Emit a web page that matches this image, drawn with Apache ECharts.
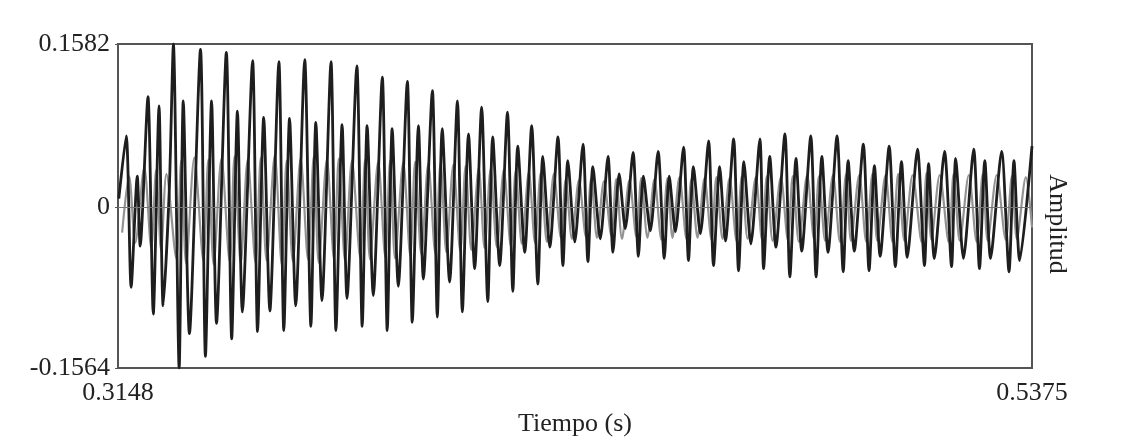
<!DOCTYPE html>
<html>
<head>
<meta charset="utf-8">
<script src="https://cdn.jsdelivr.net/npm/echarts@6/dist/echarts.min.js"></script>
<style>
html,body{margin:0;padding:0;background:#fff;}
#c{width:1130px;height:448px;}
</style>
</head>
<body>
<div id="c"></div>
<script>
// Time axis bounds and tick labels (s)
const xMin = 0.3148;
const xMax = 0.5375;
const xTicks = [0.3148, 0.5375];
// Amplitude axis bounds and tick labels
const yMin = -0.1564;
const yMax = 0.1582;
const yTicks = [-0.1564, 0, 0.1582];

// Dark waveform: successive extrema (time in s, amplitude)
const blackTime = [
0.3150,0.3168,0.3180,0.3195,0.3202,0.3221,0.3234,0.3248,0.3258,0.3273,
0.3283,0.3297,0.3307,0.3322,0.3349,0.3361,0.3376,0.3388,0.3412,0.3425,
0.3439,0.3451,0.3476,0.3488,0.3503,0.3518,0.3540,0.3552,0.3566,0.3581,
0.3603,0.3618,0.3630,0.3645,0.3667,0.3679,0.3694,0.3706,0.3730,0.3743,
0.3755,0.3770,0.3792,0.3804,0.3816,0.3831,0.3853,0.3865,0.3880,0.3892,
0.3914,0.3926,0.3938,0.3956,0.3975,0.3987,0.4002,0.4017,0.4034,0.4049,
0.4061,0.4078,0.4097,0.4110,0.4122,0.4139,0.4156,0.4171,0.4183,0.4200,
0.4220,0.4232,0.4244,0.4261,0.4281,0.4293,0.4305,0.4323,0.4342,0.4354,
0.4369,0.4384,0.4403,0.4416,0.4428,0.4445,0.4464,0.4479,0.4491,0.4506,
0.4526,0.4538,0.4550,0.4567,0.4587,0.4599,0.4614,0.4628,0.4648,0.4660,
0.4673,0.4690,0.4712,0.4721,0.4736,0.4751,0.4773,0.4785,0.4800,0.4814,
0.4836,0.4849,0.4863,0.4878,0.4900,0.4915,0.4927,0.4942,0.4964,0.4978,
0.4991,0.5005,0.5027,0.5042,0.5057,0.5071,0.5096,0.5113,0.5123,0.5137,
0.5162,0.5179,0.5189,0.5208,0.5233,0.5247,0.5260,0.5274,0.5301,0.5319,
0.5331,0.5345,0.5375
];
const blackAmp = [
0.008,0.069,-0.078,0.030,-0.038,0.107,-0.104,0.098,-0.096,0.017,
0.1582,-0.1564,0.103,-0.123,0.153,-0.145,0.103,-0.113,0.150,-0.128,
0.093,-0.102,0.142,-0.121,0.087,-0.101,0.141,-0.120,0.086,-0.096,
0.143,-0.116,0.082,-0.091,0.141,-0.120,0.080,-0.089,0.137,-0.116,
0.079,-0.086,0.126,-0.120,0.076,-0.077,0.122,-0.112,0.079,-0.070,
0.113,-0.107,0.076,-0.073,0.103,-0.102,0.071,-0.060,0.097,-0.092,
0.068,-0.057,0.092,-0.082,0.059,-0.044,0.079,-0.075,0.049,-0.039,
0.068,-0.057,0.045,-0.034,0.061,-0.053,0.039,-0.031,0.049,-0.044,
0.032,-0.021,0.053,-0.048,0.030,-0.023,0.054,-0.050,0.030,-0.024,
0.058,-0.052,0.039,-0.026,0.064,-0.057,0.039,-0.033,0.066,-0.062,
0.044,-0.036,0.066,-0.060,0.049,-0.039,0.071,-0.068,0.047,-0.043,
0.069,-0.068,0.049,-0.044,0.069,-0.063,0.045,-0.043,0.061,-0.062,
0.040,-0.048,0.059,-0.058,0.044,-0.049,0.056,-0.057,0.042,-0.050,
0.054,-0.058,0.047,-0.050,0.056,-0.060,0.045,-0.050,0.054,-0.063,
0.045,-0.052,0.059
];

// Light (grey) waveform: successive extrema (time in s, amplitude)
const grayTime = [
0.3158,0.3175,0.3190,0.3212,0.3229,0.3241,0.3253,0.3266,
0.3290,0.3302,0.3314,0.3334,0.3356,0.3368,0.3381,0.3400,0.3420,0.3432,
0.3447,0.3464,0.3483,0.3496,0.3510,0.3530,0.3547,0.3559,0.3574,0.3593,
0.3611,0.3625,0.3637,0.3657,
0.3674,0.3686,0.3701,0.3718,0.3738,0.3750,0.3762,0.3782,0.3799,0.3811,
0.3823,0.3843,0.3860,0.3872,0.3887,0.3904,0.3921,0.3934,0.3948,
0.3965,0.3982,0.3995,0.4009,0.4027,0.4041,0.4056,0.4071,0.4088,0.4105,
0.4117,0.4132,0.4149,0.4164,0.4178,0.4193,0.4210,
0.4227,0.4239,0.4254,0.4271,0.4288,0.4301,0.4315,0.4332,0.4350,0.4362,
0.4376,0.4394,0.4411,0.4423,0.4438,0.4455,0.4472,0.4487,0.4499,
0.4516,0.4533,0.4545,0.4560,0.4577,0.4594,0.4606,0.4621,0.4638,
0.4655,0.4668,0.4682,0.4702,0.4717,0.4729,0.4743,0.4763,
0.4780,0.4792,0.4807,0.4827,0.4844,0.4856,0.4871,0.4890,
0.4907,0.4922,0.4934,0.4954,0.4971,0.4986,0.4998,0.5018,
0.5035,0.5049,0.5064,0.5084,0.5106,0.5118,0.5130,0.5150,
0.5172,0.5184,0.5199,0.5221,0.5240,0.5255,0.5267,0.5289,
0.5311,0.5326,0.5338,0.5360,0.5375
];
const grayAmp = [
-0.025,0.030,-0.035,0.038,-0.040,0.036,-0.042,0.032,
-0.050,0.045,-0.055,0.048,-0.052,0.046,-0.056,0.047,-0.053,0.049,
-0.055,0.046,-0.054,0.048,-0.052,0.050,-0.056,0.045,-0.053,0.047,
-0.051,0.049,-0.054,0.046,
-0.050,0.047,-0.052,0.045,-0.049,0.046,-0.051,0.044,-0.048,0.045,
-0.050,0.043,-0.047,0.044,-0.046,0.042,-0.045,0.043,-0.044,
0.041,-0.043,0.040,-0.042,0.038,-0.040,0.037,-0.039,0.036,-0.038,
0.035,-0.036,0.034,-0.035,0.033,-0.034,0.032,
-0.030,0.027,-0.031,0.026,-0.029,0.028,-0.030,0.025,-0.028,0.027,
-0.031,0.026,-0.029,0.028,-0.030,0.027,-0.032,0.028,-0.030,
0.029,-0.031,0.027,-0.030,0.028,-0.032,0.029,-0.031,0.028,
-0.033,0.030,-0.031,0.029,-0.032,0.030,-0.033,0.029,
-0.032,0.030,-0.034,0.031,-0.032,0.030,-0.033,0.031,
-0.034,0.032,-0.033,0.031,-0.034,0.032,-0.033,0.031,
-0.034,0.032,-0.033,0.031,-0.034,0.033,-0.032,0.031,
-0.034,0.032,-0.033,0.031,-0.034,0.032,-0.033,0.031,
-0.032,0.030,-0.031,0.029,-0.020
];

const xName = 'Tiempo (s)';
const yName = 'Amplitud';

const FONT = "'Liberation Serif','Times New Roman',serif";
const blackData = blackTime.map((t, i) => [t, blackAmp[i]]);
const grayData = grayTime.map((t, i) => [t, grayAmp[i]]);

const chart = echarts.init(document.getElementById('c'), null, {renderer: 'canvas'});
chart.setOption({
  animation: false,
  backgroundColor: '#ffffff',
  grid: {
    left: 118, right: 98, top: 44, bottom: 80,
    show: true, borderColor: '#555', borderWidth: 2, backgroundColor: 'transparent'
  },
  xAxis: {
    type: 'value', min: xMin, max: xMax,
    name: xName, nameLocation: 'middle', nameGap: 42,
    nameTextStyle: {fontFamily: FONT, fontSize: 26, color: '#222'},
    axisLine: {show: true, onZero: false, lineStyle: {color: '#555', width: 2}},
    axisTick: {show: false},
    splitLine: {show: false},
    axisLabel: {
      customValues: xTicks, fontFamily: FONT, fontSize: 26, color: '#222', margin: 12,
      formatter: v => v.toFixed(4)
    }
  },
  yAxis: {
    type: 'value', min: yMin, max: yMax,
    axisLine: {show: true, lineStyle: {color: '#555', width: 2}},
    axisTick: {show: true, customValues: yTicks, length: 3, lineStyle: {color: '#555', width: 1}},
    splitLine: {show: false},
    axisLabel: {
      customValues: yTicks, fontFamily: FONT, fontSize: 26, color: '#222', margin: 8,
      formatter: v => (v === 0 ? '0' : v.toFixed(4))
    }
  },
  graphic: [{
    type: 'text', left: 1044, top: 'middle', rotation: -Math.PI / 2,
    style: {text: yName, font: '26px ' + FONT, fill: '#222'}
  }],
  series: [
    {
      type: 'line', data: grayData, showSymbol: false, smooth: 0.3, z: 2,
      lineStyle: {color: '#939393', width: 2.2}
    },
    {
      type: 'line', data: blackData, showSymbol: false, smooth: 0.25, z: 3,
      lineStyle: {color: '#1e1e1e', width: 2.8},
      markLine: {
        silent: true, symbol: 'none', label: {show: false},
        lineStyle: {color: '#777', width: 1, type: 'solid'},
        data: [{yAxis: 0}]
      }
    }
  ]
});
</script>
</body>
</html>
